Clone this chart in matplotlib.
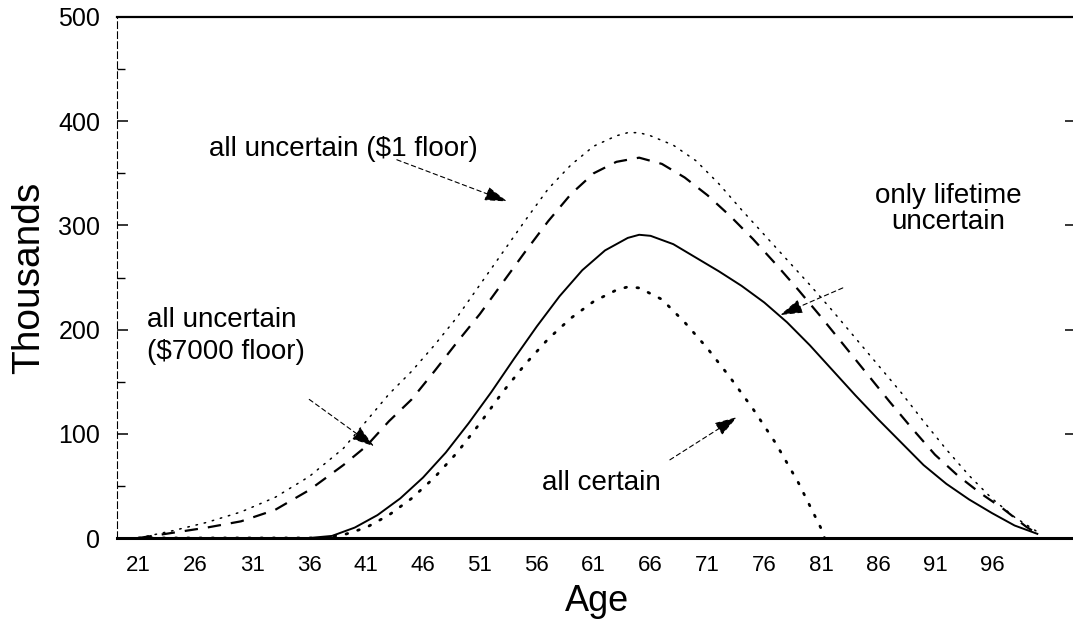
import matplotlib
matplotlib.use('Agg')
import matplotlib.pyplot as plt
from matplotlib.ticker import MultipleLocator

plt.rcParams.update({
    'font.family': ['Liberation Sans', 'DejaVu Sans'],
})

# wealth profiles by age, thousands of dollars
age_floor1 = [21, 24, 27, 30, 33, 36, 39, 41, 43, 45, 47, 49, 51, 53, 55, 57, 59, 61,
              63, 64, 65, 66, 68, 70, 72, 74, 76, 78, 80, 82, 84, 86, 88, 90, 92, 94,
              96, 98, 100]
val_floor1 = [0, 7, 15, 25, 39, 59, 86, 112, 138, 160, 185, 212, 243, 274, 305, 335, 358, 376,
              386, 389, 389, 386, 377, 362, 340, 315, 291, 267, 243, 218, 192, 166, 140, 112, 85, 60,
              38, 20, 6]

age_floor7000 = [21, 24, 27, 30, 33, 36, 39, 41, 43, 45, 47, 49, 51, 53, 55, 57, 59, 61,
                 63, 65, 67, 69, 71, 73, 75, 77, 79, 81, 83, 85, 87, 89, 91, 93, 95, 97,
                 99, 100]
val_floor7000 = [0, 5, 10, 16, 27, 46, 70, 88, 112, 133, 160, 188, 215, 245, 275, 304, 330, 350,
                 361, 365, 359, 346, 329, 309, 287, 263, 238, 212, 185, 158, 131, 105, 80, 60, 43, 28,
                 11, 4]

age_lifetime = [21, 36, 38, 40, 42, 44, 46, 48, 50, 52, 54, 56, 58, 60, 62, 64, 65, 66,
                68, 70, 72, 74, 76, 78, 80, 82, 84, 86, 88, 90, 92, 94, 96, 98, 100]
val_lifetime = [0, 0, 2, 10, 22, 38, 58, 82, 110, 140, 172, 203, 232, 257, 276, 288, 291, 290,
                282, 269, 256, 242, 226, 207, 185, 161, 137, 114, 92, 70, 52, 37, 24, 12, 4]

age_certain = [21, 37, 39, 41, 43, 45, 47, 49, 51, 53, 55, 57, 59, 61, 63, 64, 65, 67,
               69, 71, 73, 75, 77, 79, 80, 81, 81.3]
val_certain = [0, 0, 3, 10, 22, 38, 58, 82, 110, 140, 167, 191, 211, 227, 238, 241, 240, 229,
               207, 182, 154, 124, 91, 53, 31, 9, 0]

xtick_ages = [21, 26, 31, 36, 41, 46, 51, 56, 61, 66, 71, 76, 81, 86, 91, 96]

fig = plt.figure(figsize=(10.73, 6.29), dpi=100)
ax = fig.add_axes([117/1073, 91/629, 959/1073, 521/629])

ax.plot(age_floor1, val_floor1, color='black', lw=1.1,
        linestyle=(0, (1, 4.5)), dash_capstyle='round')
ax.plot(age_floor7000, val_floor7000, color='black', lw=1.6,
        linestyle=(0, (6, 4.5)))
ax.plot(age_lifetime, val_lifetime, color='black', lw=1.4)
ax.plot(age_certain, val_certain, color='black', lw=2.0,
        linestyle=(0, (0.6, 3.8)), dash_capstyle='round')

ax.set_xlim(19.1, 103.4)
ax.set_ylim(0, 500)

ax.set_xticks(xtick_ages)
ax.yaxis.set_major_locator(MultipleLocator(100))
ax.yaxis.set_minor_locator(MultipleLocator(50))
ax.tick_params(axis='x', length=0, pad=12, labelsize=16)
ax.tick_params(axis='y', which='major', direction='in', length=8, width=1.1,
               pad=12, labelsize=18, right=True)
ax.tick_params(axis='y', which='minor', direction='in', length=6, width=1.0,
               right=False)

ax.spines['right'].set_visible(False)
ax.spines['top'].set_linewidth(1.6)
ax.spines['bottom'].set_linewidth(2.2)
ax.spines['left'].set_linewidth(0.8)
ax.spines['left'].set_linestyle((0, (6, 3)))

ax.set_xlabel('Age', fontsize=26, labelpad=6)
ax.set_ylabel('Thousands', fontsize=28, labelpad=8)

arrow = dict(arrowstyle='-|>,head_length=0.7,head_width=0.22', color='black',
             lw=0.8, linestyle=(0, (4, 3)), shrinkA=0, shrinkB=0, mutation_scale=20)

ax.annotate('', xy=(53.4, 323), xytext=(43.7, 363), arrowprops=arrow)
ax.annotate('', xy=(41.7, 88), xytext=(36.0, 133), arrowprops=arrow)
ax.annotate('', xy=(77.4, 214), xytext=(82.9, 240), arrowprops=arrow)
ax.annotate('', xy=(73.6, 116), xytext=(67.7, 75), arrowprops=arrow)

ax.text(27.2, 373, r'all uncertain (\$1 floor)', fontsize=20, va='center', ha='left')
ax.text(21.7, 194, 'all uncertain\n' + r'(\$7000 floor)', fontsize=20, va='center',
        ha='left', linespacing=1.3)
ax.text(92.2, 316, 'only lifetime\nuncertain', fontsize=20, va='center', ha='center',
        linespacing=1.0)
ax.text(56.5, 53, 'all certain', fontsize=20, va='center', ha='left')

fig.savefig('out.png', dpi=100)
print("Saved out.png")
